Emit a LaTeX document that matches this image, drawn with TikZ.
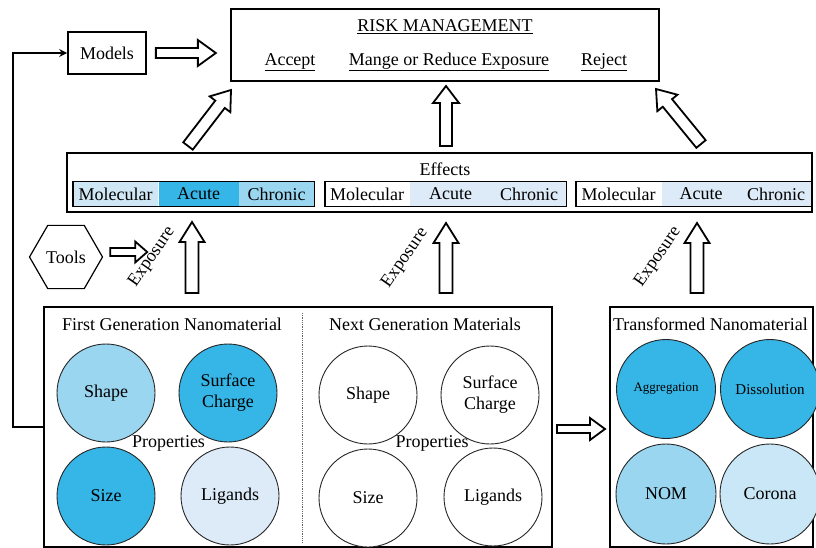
\documentclass[tikz,border=0pt]{standalone}
\usepackage{fontspec}
\setmainfont{Liberation Serif}
\usetikzlibrary{shapes.geometric,calc,arrows.meta}

\definecolor{cstrong}{HTML}{35B6E6}
\definecolor{cmid}{HTML}{9AD6F0}
\definecolor{clight}{HTML}{CFE7F5}
\definecolor{cpale}{HTML}{DCEBF7}
\definecolor{ccorona}{HTML}{C9E7F6}

% hollow block arrow: #1 start, #2 end, #3 half shaft, #4 half head, #5 head length
\newcommand\blockarrow[5]{%
  \draw[hollow] let \p1=#1, \p2=#2, \n1={atan2(\y2-\y1,\x2-\x1)}, \n2={veclen(\x2-\x1,\y2-\y1)} in
  [shift={(\p1)}, rotate=\n1]
  (0,-#3) -- ({\n2-#5},-#3) -- ({\n2-#5},-#4) -- (\n2,0) -- ({\n2-#5},#4) -- ({\n2-#5},#3) -- (0,#3) -- cycle;}

\begin{document}
\begin{tikzpicture}[x=1pt,y=-1pt,
  every node/.style={font=\fontsize{18}{21}\selectfont, inner sep=0pt, text=black},
  box/.style={draw, line width=1.7pt, rectangle},
  hollow/.style={draw, fill=white, line width=1.8pt, line join=miter},
  conn/.style={line width=1.8pt, -{Stealth[length=8pt,width=8pt]}},
  circ/.style={circle, draw=black!85, line width=0.9pt, minimum size=98pt},
  seg/.style={rectangle, minimum height=24pt, anchor=west},
  ctext/.style={align=center},
]
\useasboundingbox (0,0) rectangle (816,548);

% Risk management
\node[box, minimum width=428pt, minimum height=72pt] (risk) at (445,45) {};
\node (rt) at (445,27) {\underline{RISK MANAGEMENT}};
\node (acc) at (290,62) {\underline{Accept}};
\node (mng) at (449,62) {\underline{Mange or Reduce Exposure}};
\node (rej) at (604,62) {\underline{Reject}};

% Models
\node[box, minimum width=78pt, minimum height=42pt] (models) at (107,53) {Models};

% Tools
\node[regular polygon, regular polygon sides=6, draw, line width=1.2pt, minimum size=73pt] (tools) at (66,257) {Tools};

% Effects
\node[box, minimum width=745pt, minimum height=59pt] (eff) at (439.5,182.5) {};
\node (efft) at (445,169) {Effects};

\node[seg, fill=clight, minimum width=85pt] (m1) at (73,194) {Molecular};
\node[seg, fill=cstrong, minimum width=80pt] (a1) at (m1.east) {Acute};
\node[seg, fill=cmid, minimum width=75pt] (c1) at (a1.east) {Chronic};
\draw[line width=1.3pt] (m1.north west) rectangle (c1.south east);

\node[seg, fill=white, minimum width=84pt] (m2) at (325,194) {Molecular};
\node[seg, fill=cpale, minimum width=82pt] (a2) at (m2.east) {Acute};
\node[seg, fill=cpale, minimum width=74pt] (c2) at (a2.east) {Chronic};
\draw[line width=1.3pt] (m2.north west) rectangle (c2.south east);

\node[seg, fill=white, minimum width=85pt] (m3) at (576,194) {Molecular};
\node[seg, fill=cpale, minimum width=79pt] (a3) at (m3.east) {Acute};
\node[seg, fill=cpale, minimum width=70pt] (c3) at (a3.east) {Chronic};
\draw[line width=1.3pt] (m3.north west) rectangle (c3.south east);

% Bottom boxes
\node[box, minimum width=508pt, minimum height=240pt] (main) at (298,427) {};
\node[box, minimum width=203pt, minimum height=240pt] (trans) at (711.5,427) {};

\node (fg) at (172,324) {First Generation Nanomaterial};
\node (ng) at (425,324) {Next Generation Materials};
\draw[densely dotted, black!60, line width=0.8pt] (302,313) -- (302,542);
\node (tt) at (710.5,324) {Transformed Nanomaterial};

% first generation circles
\node[circ, fill=cmid] (sh1) at (106,393) {Shape};
\node[circ, fill=cstrong, ctext] (sc1) at (228,393) {Surface\\Charge};
\node[circ, fill=cstrong] (sz1) at (106,496) {Size};
\node[circ, fill=cpale] (lg1) at (230,496) {Ligands};
\node (pr1) at (168.5,443) {Properties};

% next generation circles
\node[circ, fill=white] (sh2) at (368,395) {Shape};
\node[circ, fill=white, ctext] (sc2) at (490,395) {Surface\\Charge};
\node[circ, fill=white] (sz2) at (368,498) {Size};
\node[circ, fill=white] (lg2) at (493,497) {Ligands};
\node (pr2) at (432,443) {Properties};

% transformed circles
\node[circ, fill=cstrong, minimum size=99pt, font=\fontsize{13}{15}\selectfont] (agg) at (666,389) {Aggregation};
\node[circ, fill=cstrong, minimum size=99pt, font=\fontsize{15}{17}\selectfont] (dis) at (770,389) {Dissolution};
\node[circ, fill=cmid, minimum size=100pt] (nom) at (666,494) {NOM};
\node[circ, fill=ccorona, minimum size=100pt] (cor) at (770,494) {Corona};

% Exposure labels
\node[rotate=55] (ex1) at (152,257) {Exposure};
\node[rotate=55] (ex2) at (405,258) {Exposure};
\node[rotate=55] (ex3) at (658,257) {Exposure};

% connector from main box to models
\draw[conn] (main.west) -- ++(-30,0) |- (models.west);

% block arrows
\coordinate (ma1) at ($(models.east)+(9,0)$);
\coordinate (ma2) at ($(models.east)+(69,0)$);
\blockarrow{(ma1)}{(ma2)}{5}{13}{18}

\coordinate (ta1) at ($(tools.east)+(7,-5)$);
\coordinate (ta2) at ($(tools.east)+(44,-5)$);
\blockarrow{(ta1)}{(ta2)}{4}{10.5}{12}

\coordinate (r1a) at (188,146);
\coordinate (r1b) at (231,90);
\blockarrow{(r1a)}{(r1b)}{6}{13}{18}
\coordinate (r2a) at (446,146);
\coordinate (r2b) at (446,86);
\blockarrow{(r2a)}{(r2b)}{6}{13}{17}
\coordinate (r3a) at (701,144);
\coordinate (r3b) at (656,89);
\blockarrow{(r3a)}{(r3b)}{6}{13}{18}

\coordinate (e1a) at (192,293);
\coordinate (e1b) at (192,222);
\blockarrow{(e1a)}{(e1b)}{6.5}{12.5}{20}
\coordinate (e2a) at (446,293);
\coordinate (e2b) at (446,223);
\blockarrow{(e2a)}{(e2b)}{6.5}{12.5}{20}
\coordinate (e3a) at (697,293);
\coordinate (e3b) at (697,223);
\blockarrow{(e3a)}{(e3b)}{6.5}{12.5}{20}

\coordinate (ba1) at (557,429);
\coordinate (ba2) at (605,429);
\blockarrow{(ba1)}{(ba2)}{4}{11}{15}
\end{tikzpicture}
\end{document}
